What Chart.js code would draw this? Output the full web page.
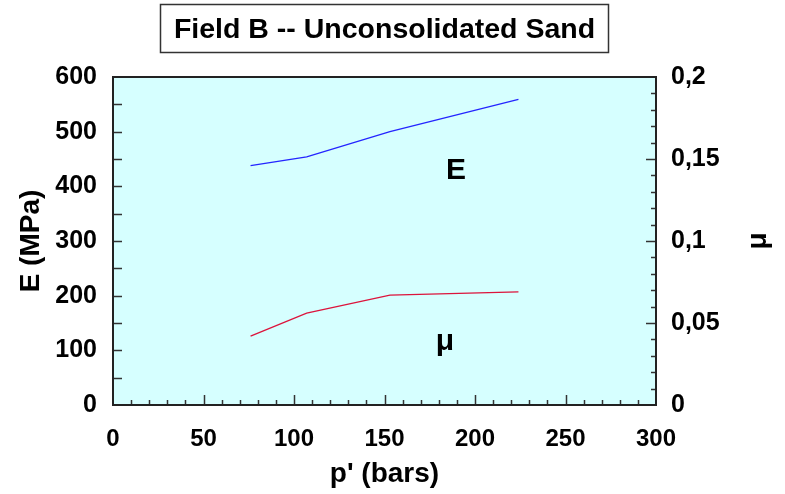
<!DOCTYPE html>
<html>
<head>
<meta charset="utf-8">
<script src="https://cdn.jsdelivr.net/npm/chart.js@4.4.1/dist/chart.umd.min.js"></script>
<style>
  html, body { margin: 0; padding: 0; background: #fff; }
  #wrap { width: 785px; height: 494px; }
</style>
</head>
<body>
<div id="wrap"><canvas id="fieldChart" width="785" height="494"></canvas></div>
<script>
// data
const pressure = [76, 107, 153, 224];          // p' (bars)
const youngModulus = [438, 454, 500, 559];      // E (MPa), left axis
const poisson = [0.042, 0.056, 0.067, 0.069];   // mu, right axis
const xTicks = [0, 50, 100, 150, 200, 250, 300];
const leftTicks = [0, 100, 200, 300, 400, 500, 600];
const rightTicks = [0, 0.05, 0.1, 0.15, 0.2];

const FONT = "'Liberation Sans', Arial, sans-serif";

// frame, background, inward ticks, titles
const decorations = {
    id: 'decorations',
    beforeDraw(chart) {
        const { ctx, chartArea: a } = chart;
        ctx.save();
        ctx.fillStyle = '#d6ffff';
        ctx.fillRect(a.left, a.top, a.right - a.left, a.bottom - a.top);
        ctx.restore();
    },
    afterDraw(chart) {
        const { ctx, chartArea: a, scales } = chart;
        ctx.save();
        ctx.strokeStyle = '#333';
        ctx.lineWidth = 1.5;
        // x ticks every 10, longer every 50
        for (let v = 10; v < 300; v += 10) {
            const px = Math.round(scales.x.getPixelForValue(v)) + 0.5;
            const len = v % 50 === 0 ? 10 : 5;
            ctx.beginPath(); ctx.moveTo(px, a.bottom); ctx.lineTo(px, a.bottom - len); ctx.stroke();
        }
        // left ticks every 50
        for (let v = 50; v < 600; v += 50) {
            const py = Math.round(scales.y.getPixelForValue(v)) + 0.5;
            ctx.beginPath(); ctx.moveTo(a.left, py); ctx.lineTo(a.left + 9, py); ctx.stroke();
        }
        // right ticks every 0.01, longer every 0.05
        for (let i = 1; i < 20; i++) {
            const py = Math.round(scales.y2.getPixelForValue(i / 100)) + 0.5;
            const len = i % 5 === 0 ? 10 : 5;
            ctx.beginPath(); ctx.moveTo(a.right, py); ctx.lineTo(a.right - len, py); ctx.stroke();
        }
        ctx.lineWidth = 2;
        ctx.strokeStyle = '#222';
        ctx.strokeRect(a.left, a.top, a.right - a.left, a.bottom - a.top);

        // title box
        ctx.fillStyle = '#000';
        ctx.font = 'bold 28.5px ' + FONT;
        ctx.textAlign = 'center';
        ctx.textBaseline = 'alphabetic';
        const cx = (a.left + a.right) / 2;
        ctx.fillText('Field B -- Unconsolidated Sand', cx, 38);
        ctx.lineWidth = 1.5;
        ctx.strokeStyle = '#333';
        ctx.strokeRect(160.5, 4.5, 448, 48);

        // series labels
        ctx.font = 'bold 30px ' + FONT;
        ctx.fillText('E', 456, 179);
        ctx.fillText('\u03bc', 445, 350);

        // axis titles
        ctx.textBaseline = 'middle';
        ctx.font = 'bold 28px ' + FONT;
        ctx.fillText("p' (bars)", cx, 474);
        ctx.save();
        ctx.translate(31, (a.top + a.bottom) / 2);
        ctx.rotate(-Math.PI / 2);
        ctx.fillText('E (MPa)', 0, 0);
        ctx.restore();
        ctx.save();
        ctx.translate(758, (a.top + a.bottom) / 2);
        ctx.rotate(-Math.PI / 2);
        ctx.fillText('\u03bc', 0, 0);
        ctx.restore();
        ctx.restore();
    }
};

const ctx = document.getElementById('fieldChart').getContext('2d');
new Chart(ctx, {
    type: 'line',
    data: {
        datasets: [
            {
                label: 'E',
                data: pressure.map((p, i) => ({ x: p, y: youngModulus[i] })),
                borderColor: '#2424ff',
                borderWidth: 1.3,
                pointRadius: 0,
                tension: 0,
                yAxisID: 'y'
            },
            {
                label: 'mu',
                data: pressure.map((p, i) => ({ x: p, y: poisson[i] })),
                borderColor: '#dc143c',
                borderWidth: 1.3,
                pointRadius: 0,
                tension: 0,
                yAxisID: 'y2'
            }
        ]
    },
    options: {
        responsive: false,
        animation: false,
        layout: { padding: { top: 77, left: 0, right: 0, bottom: 0 } },
        plugins: { legend: { display: false }, tooltip: { enabled: false } },
        scales: {
            x: {
                type: 'linear',
                min: 0, max: 300,
                afterBuildTicks: (s) => { s.ticks = xTicks.map(v => ({ value: v })) },
                afterFit: (s) => { s.height = 89 },
                grid: { display: false },
                border: { display: false },
                ticks: { color: '#000', padding: 12, font: { family: FONT, weight: 'bold', size: 24 } }
            },
            y: {
                position: 'left',
                min: 0, max: 600,
                afterBuildTicks: (s) => { s.ticks = leftTicks.map(v => ({ value: v })) },
                afterFit: (s) => { s.width = 113 },
                grid: { display: false },
                border: { display: false },
                ticks: { color: '#000', padding: 8, font: { family: FONT, weight: 'bold', size: 25 } }
            },
            y2: {
                position: 'right',
                min: 0, max: 0.2,
                afterBuildTicks: (s) => { s.ticks = rightTicks.map(v => ({ value: v })) },
                afterFit: (s) => { s.width = 129 },
                grid: { display: false },
                border: { display: false },
                ticks: {
                    color: '#000', padding: 7,
                    font: { family: FONT, weight: 'bold', size: 25 },
                    callback: (v) => String(Math.round(v * 100) / 100).replace('.', ',')
                }
            }
        }
    },
    plugins: [decorations]
});
</script>
</body>
</html>
